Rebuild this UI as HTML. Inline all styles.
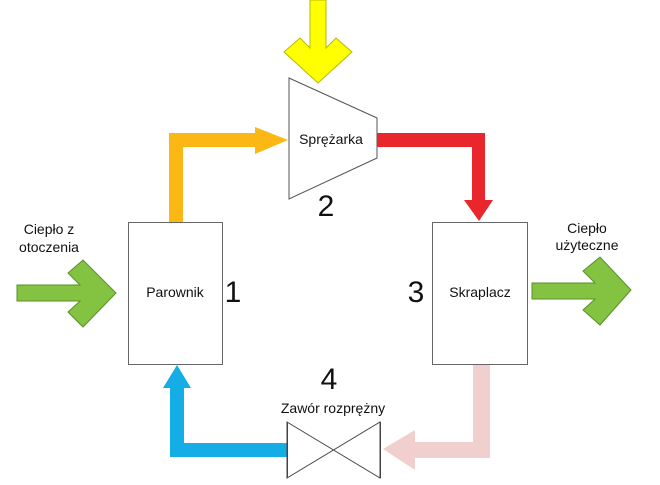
<!DOCTYPE html>
<html><head><meta charset="utf-8"><style>
html,body{margin:0;padding:0;background:#fff;}
svg text{font-family:"Liberation Sans",sans-serif;fill:#111;}
</style></head><body>
<svg width="660" height="480" viewBox="0 0 660 480" xmlns="http://www.w3.org/2000/svg">
<!-- yellow arrow -->
<polygon points="310,0 326,0 326,48 336,38 352,52 318,83 284,52 300,38 310,48" fill="#ffff00" stroke="#b8b800" stroke-width="1"/>
<!-- compressor -->
<polygon points="289,78 377,118 377,158 289,199" fill="#fff" stroke="#555" stroke-width="1"/>
<text x="331" y="144" font-size="14" text-anchor="middle">Sprężarka</text>
<text x="326" y="216" font-size="30" text-anchor="middle">2</text>
<!-- orange -->
<polygon points="169,222 169,133 255,133 255,127 288,140 255,154 255,147 183,147 183,222" fill="#fbb714"/>
<!-- red -->
<polygon points="377,133 485,133 485,200 493,200 479,221 464,200 472,200 472,147 377,147" fill="#e8262b"/>
<!-- boxes -->
<rect x="128.5" y="222.5" width="94" height="142" fill="#fff" stroke="#666"/>
<text x="175" y="297" font-size="14" text-anchor="middle">Parownik</text>
<text x="233" y="302" font-size="30" text-anchor="middle">1</text>
<rect x="432.5" y="222.5" width="95" height="142" fill="#fff" stroke="#666"/>
<text x="480" y="297" font-size="14" text-anchor="middle">Skraplacz</text>
<text x="416" y="302" font-size="30" text-anchor="middle">3</text>
<!-- green arrows -->
<polygon points="17,285 80,285 68,273 83,260 116,293 83,327 68,312 80,301 17,301" fill="#83c341" stroke="#5a8f2a" stroke-width="1"/>
<polygon points="532,283 595,283 583,271 600,257 631,290 600,325 583,310 595,299 532,299" fill="#83c341" stroke="#5a8f2a" stroke-width="1"/>
<text x="49" y="234" font-size="14" text-anchor="middle">Ciepło z</text>
<text x="49" y="252" font-size="14" text-anchor="middle">otoczenia</text>
<text x="587" y="233" font-size="14" text-anchor="middle">Ciepło</text>
<text x="587" y="250" font-size="14" text-anchor="middle">użyteczne</text>
<!-- blue -->
<polygon points="287,443 184,443 184,388 191,388 177,365 163,388 170,388 170,457 287,457" fill="#14ade5"/>
<!-- pink -->
<polygon points="473,365 490,365 490,458 415,458 415,470 383,449 415,430 415,442 473,442" fill="#f1cfcf"/>
<!-- valve -->
<polygon points="287,422 380,478 380,422 287,478" fill="#fff" stroke="#444" stroke-width="1"/>
<line x1="287.5" y1="422" x2="287.5" y2="478" stroke="#444"/>
<line x1="380.5" y1="422" x2="380.5" y2="478" stroke="#444"/>
<text x="329" y="389" font-size="30" text-anchor="middle">4</text>
<text x="333" y="413" font-size="14" text-anchor="middle">Zawór rozprężny</text>
</svg>
</body></html>
